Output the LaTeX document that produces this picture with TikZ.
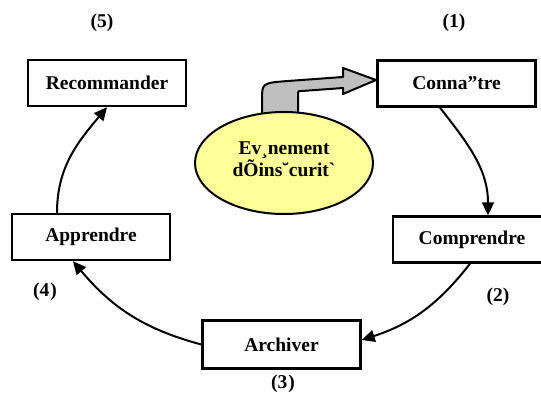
\documentclass[tikz,border=0pt]{standalone}
\usepackage{fontspec}
\newfontfamily\lib{Liberation Serif}
\usetikzlibrary{arrows.meta}
\begin{document}
\begin{tikzpicture}[x=1pt,y=1pt,
  every node/.style={font=\lib\bfseries\fontsize{19.5}{20}\selectfont},
  stagebox/.style={draw, line width=2.4pt, minimum width=158pt, minimum height=46pt, inner sep=0pt, fill=white},
  lbl/.style={inner sep=0pt},
  flow/.style={line width=2pt, -{Triangle[length=13pt,width=12pt]}}]
\useasboundingbox (0,0) rectangle (541,394);
% boxes
\node[stagebox] (rec) at (107,311) {Recommander};
\node[stagebox] (con) at (456.5,310.5) {Conna”tre};
\node[stagebox] (app) at (91,157) {Apprendre};
\node[stagebox] (com) at (472,154.5) {Comprendre};
\node[stagebox, minimum height=48pt] (arc) at (281.5,49.5) {Archiver};
% labels
\node[lbl] (l5) at (102,371) {(5)};
\node[lbl] (l1) at (454,371) {(1)};
\node[lbl] (l4) at (45,102) {(4\kern1pt)};
\node[lbl] (l2) at (498,97) {(2)};
\node[lbl] (l3) at (283,10) {(3\kern1pt)};
% gray bent arrow
\draw[fill=black!25, line width=2pt, line join=round]
  (262,279) -- (262,294) .. controls (262,311) .. (288,313)
  -- (343,317) -- (343,326) -- (376,314) -- (343,300) -- (343,306)
  -- (302,303) .. controls (298,303) .. (298,299) -- (298,279) -- cycle;
% event ellipse
\draw[fill={rgb,255:red,255;green,255;blue,153}, line width=2pt] (284,231) ellipse [x radius=89, y radius=51];
\node[align=center, inner sep=0pt, font=\lib\bfseries\fontsize{19.5}{18}\selectfont] (evt) at (284,235) {Ev¸nement\\dÕins˘curit`};
% cycle connectors
\draw[flow] ([xshift=-16.5pt]con.south) to[out=-52, in=90] ([xshift=16pt]com.north);
\draw[flow] ([xshift=-2pt]com.south) to[out=-128, in=18] ([yshift=4.5pt]arc.east);
\draw[flow] (arc.west) to[out=165, in=-50] ([xshift=-18pt]app.south);
\draw[flow] ([xshift=-34pt]app.north) to[out=90, in=-130] (rec.south);
\end{tikzpicture}
\end{document}
